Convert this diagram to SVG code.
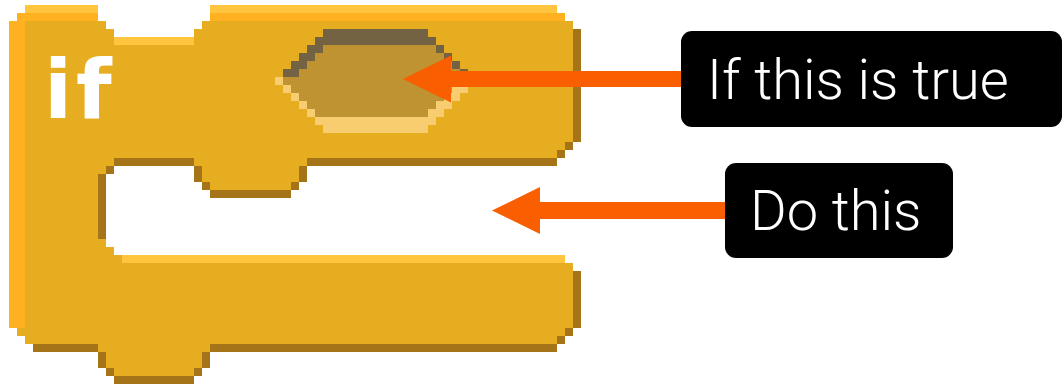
<svg xmlns="http://www.w3.org/2000/svg" width="1063" height="386" viewBox="0 0 1063 386">
<style>
.gold{fill:#E6AD20}
.lite{fill:#FFC53F}
.org{fill:#FFB122}
.brn{fill:#A57419}
.hx{fill:#BF9331}
.hd{fill:#746343}
.hl{fill:#F8CD6F}
.arrow{stroke:#F95E00;fill:none}
.box{fill:#000000}
.lbl{font-family:Roboto,"Liberation Sans",sans-serif;font-weight:300;font-size:56px;fill:#FFFFFF}
.kw{font-family:"DejaVu Sans","Liberation Sans",sans-serif;font-weight:bold;font-size:82px;letter-spacing:4px;fill:#FFFFFF}
</style>
<defs>
<marker id="head" markerUnits="userSpaceOnUse" markerWidth="50" markerHeight="50" viewBox="0 -25 50 50" refX="0" refY="0" orient="auto">
<path d="M0,-23.5 L48,0 L0,23.5 Z" fill="#F95E00"/>
</marker>
</defs>
<g id="if-block">
<polygon class="gold" points="9,21 17,21 17,13 25,13 25,5 98,5 98,21 106,21 106,29 114,29 114,37 194,37 194,29 202,29 202,21 210,21 210,5 557,5 557,13 565,13 565,21 573,21 573,29 581,29 581,142 573,142 573,150 565,150 565,158 557,158 557,166 307,166 307,182 299,182 299,190 291,190 291,198 210,198 210,190 202,190 202,182 194,182 194,166 114,166 114,174 106,174 106,247 114,247 114,255 122,255 565,255 565,263 573,263 573,271 581,271 581,328 573,328 573,336 565,336 565,344 557,344 557,352 210,352 210,368 202,368 202,376 194,376 194,384 114,384 114,376 106,376 106,368 98,368 98,352 33,352 33,344 25,344 25,336 17,336 17,328 9,328"/>
<rect class="lite" x="25" y="5" width="73" height="8"/>
<rect class="lite" x="210" y="5" width="347" height="8"/>
<rect class="lite" x="114" y="37" width="80" height="8"/>
<rect class="lite" x="122" y="255" width="443" height="8"/>
<rect class="org" x="17" y="13" width="81" height="8"/>
<rect class="org" x="210" y="13" width="355" height="8"/>
<rect class="org" x="9" y="21" width="16" height="307"/>
<rect class="brn" x="573" y="29" width="8" height="113"/>
<rect class="brn" x="565" y="142" width="8" height="8"/>
<rect class="brn" x="557" y="150" width="8" height="8"/>
<rect class="brn" x="307" y="158" width="250" height="8"/>
<rect class="brn" x="299" y="166" width="8" height="16"/>
<rect class="brn" x="291" y="182" width="8" height="8"/>
<rect class="brn" x="210" y="190" width="81" height="8"/>
<rect class="brn" x="202" y="182" width="8" height="8"/>
<rect class="brn" x="194" y="166" width="8" height="16"/>
<rect class="brn" x="114" y="158" width="80" height="8"/>
<rect class="brn" x="106" y="166" width="8" height="8"/>
<rect class="brn" x="98" y="174" width="8" height="65"/>
<rect class="brn" x="573" y="271" width="8" height="57"/>
<rect class="brn" x="565" y="328" width="8" height="8"/>
<rect class="brn" x="557" y="336" width="8" height="8"/>
<rect class="brn" x="210" y="344" width="347" height="8"/>
<rect class="brn" x="202" y="352" width="8" height="16"/>
<rect class="brn" x="194" y="368" width="8" height="8"/>
<rect class="brn" x="114" y="376" width="80" height="8"/>
<rect class="brn" x="106" y="368" width="8" height="8"/>
<rect class="brn" x="98" y="352" width="8" height="16"/>
<rect class="brn" x="33" y="344" width="65" height="8"/>
<text class="kw" x="44" y="118">if</text>
</g>
<g id="condition-slot">
<polygon class="hx" points="323,29 428,29 428,37 436,37 436,45 444,45 444,53 452,53 452,61 460,61 460,69 468,69 468,93 460,93 460,101 452,101 452,109 444,109 444,117 436,117 436,125 428,125 428,133 323,133 323,125 315,125 315,117 307,117 307,109 299,109 299,101 291,101 291,93 283,93 283,85 275,85 275,77 283,77 283,69 291,69 291,61 299,61 299,53 307,53 307,45 315,45 315,37 323,37"/>
<rect class="hd" x="323" y="29" width="105" height="8"/>
<rect class="hd" x="315" y="37" width="121" height="8"/>
<rect class="hd" x="307" y="45" width="16" height="8"/>
<rect class="hd" x="436" y="45" width="8" height="8"/>
<rect class="hd" x="299" y="53" width="16" height="8"/>
<rect class="hd" x="444" y="53" width="8" height="8"/>
<rect class="hd" x="291" y="61" width="16" height="8"/>
<rect class="hd" x="452" y="61" width="8" height="8"/>
<rect class="hd" x="283" y="69" width="16" height="8"/>
<rect class="hd" x="460" y="69" width="8" height="8"/>
<rect class="hl" x="275" y="77" width="8" height="8"/>
<rect class="hl" x="283" y="85" width="8" height="8"/>
<rect class="hl" x="291" y="93" width="8" height="8"/>
<rect class="hl" x="299" y="101" width="8" height="8"/>
<rect class="hl" x="307" y="109" width="8" height="8"/>
<rect class="hl" x="315" y="117" width="121" height="8"/>
<rect class="hl" x="323" y="125" width="105" height="8"/>
<rect class="hl" x="460" y="77" width="8" height="8"/>
<rect class="hl" x="452" y="85" width="16" height="8"/>
<rect class="hl" x="444" y="93" width="16" height="8"/>
<rect class="hl" x="436" y="101" width="16" height="8"/>
<rect class="hl" x="428" y="109" width="16" height="8"/>
</g>
<g id="connectors">
<line class="arrow" x1="682" y1="79" x2="451" y2="79" stroke-width="16" marker-end="url(#head)"/>
<line class="arrow" x1="726" y1="210.5" x2="540" y2="210.5" stroke-width="17" marker-end="url(#head)"/>
</g>
<g id="label-condition">
<rect class="box" x="681" y="31" width="381" height="96" rx="11"/>
<text class="lbl" x="707" y="99">If this is true</text>
</g>
<g id="label-body">
<rect class="box" x="725" y="163" width="228" height="95" rx="11"/>
<text class="lbl" x="750" y="230">Do this</text>
</g>
</svg>
